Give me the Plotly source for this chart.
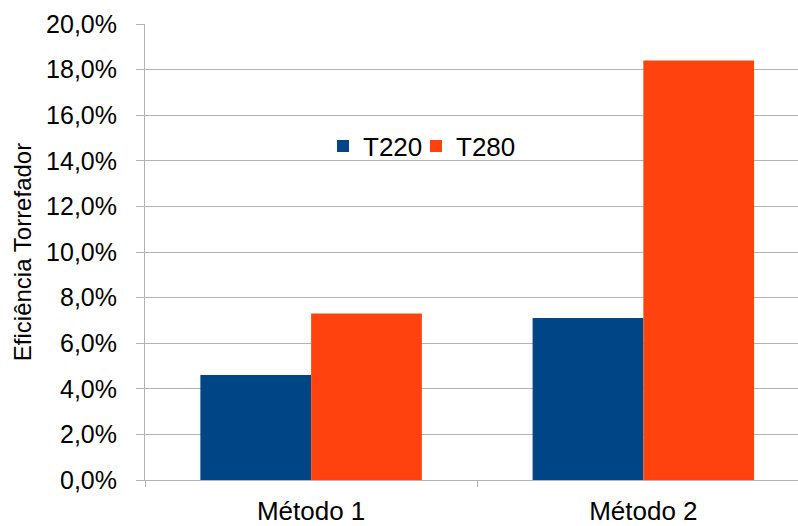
import plotly.graph_objects as go

# Torrefaction efficiency (%) per method and temperature
metodos = ["Método 1", "Método 2"]
t220 = [4.6, 7.1]
t280 = [7.3, 18.4]
y_ticks = [0, 2, 4, 6, 8, 10, 12, 14, 16, 18, 20]
y_tick_text = [f"{v:.1f}".replace(".", ",") + "%" for v in y_ticks]

FONT = "Liberation Sans, Arial, sans-serif"
GRID = "#b3b3b3"

fig = go.Figure()
fig.add_trace(go.Bar(name="T220", x=metodos, y=t220, legend="legend",
                     marker=dict(color="#004586", line=dict(width=0))))
fig.add_trace(go.Bar(name="T280", x=metodos, y=t280, legend="legend2",
                     marker=dict(color="#ff420e", line=dict(width=0))))

legend_style = dict(
    orientation="h",
    y=0.732,
    xanchor="left",
    yanchor="middle",
    bgcolor="rgba(0,0,0,0)",
    font=dict(family=FONT, size=26, color="black"),
    itemwidth=30,
)

fig.update_layout(
    width=798,
    height=526,
    margin=dict(l=145, r=0, t=24, b=43),
    paper_bgcolor="white",
    plot_bgcolor="white",
    barmode="group",
    bargap=1 / 3,
    bargroupgap=0,
    font=dict(family=FONT, size=25, color="black"),
    showlegend=True,
    legend=dict(x=0.2726, **legend_style),
    legend2=dict(x=0.415, **legend_style),
)

fig.update_xaxes(
    range=[-0.5, 1.4655],
    showgrid=False,
    showline=True,
    linecolor=GRID,
    linewidth=1,
    ticks="outside",
    tickson="boundaries",
    ticklen=6,
    tickcolor=GRID,
    ticklabelstandoff=8,
    tickfont=dict(family=FONT, size=26, color="black"),
    zeroline=False,
)

fig.update_yaxes(
    range=[0, 20],
    tickvals=y_ticks,
    ticktext=y_tick_text,
    showgrid=True,
    gridcolor=GRID,
    gridwidth=1,
    showline=True,
    linecolor=GRID,
    linewidth=1,
    ticks="outside",
    ticklen=8,
    tickcolor=GRID,
    ticklabelstandoff=14,
    tickfont=dict(family=FONT, size=25, color="black"),
    zeroline=False,
    title=dict(text="Eficiência Torrefador", font=dict(family=FONT, size=24, color="black"), standoff=7),
)

fig.write_html("out.html")
